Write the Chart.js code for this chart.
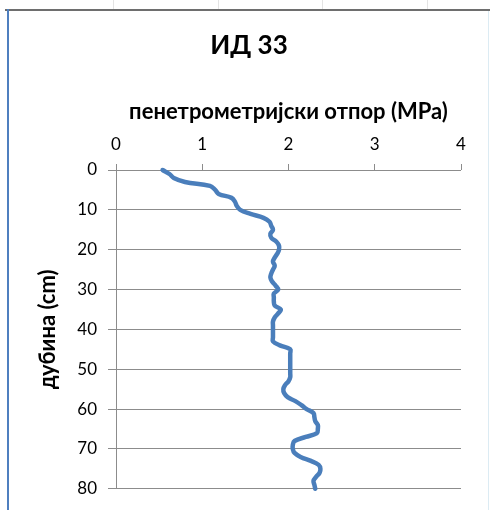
<!DOCTYPE html>
<html>
<head>
<meta charset="utf-8">
<script src="https://cdn.jsdelivr.net/npm/chart.js@4"></script>
<style>
  html, body { margin: 0; padding: 0; background: #ffffff; }
  #wrap { width: 490px; height: 510px; position: relative; }
</style>
</head>
<body>
<div id="wrap"><canvas id="c" width="490" height="510"></canvas></div>
<script>
// Penetrometer profile: depth (cm) and resistance (MPa)
const depthCm = [
  0, 1, 2, 3, 4, 5, 6, 7, 8, 9,
  10, 11, 12, 13, 14, 15, 16, 17, 18, 19,
  20, 21, 22, 23, 24, 25, 26, 27, 28, 29,
  30, 31, 32, 33, 34, 35, 36, 37, 38, 39,
  40, 41, 42, 43, 44, 45, 46, 47, 48, 49,
  50, 51, 52, 53, 54, 55, 56, 57, 58, 59,
  60, 61, 62, 63, 64, 65, 66, 67, 68, 69,
  70, 71, 72, 73, 74, 75, 76, 77, 78, 79,
  80
];
const resistanceMPa = [
  0.54, 0.62, 0.67, 0.80, 1.09, 1.15, 1.19, 1.34, 1.38, 1.40,
  1.44, 1.56, 1.71, 1.78, 1.80, 1.82, 1.79, 1.80, 1.86, 1.89,
  1.89, 1.87, 1.84, 1.82, 1.84, 1.82, 1.80, 1.79, 1.81, 1.85,
  1.88, 1.83, 1.83, 1.83, 1.84, 1.91, 1.88, 1.84, 1.82, 1.82,
  1.82, 1.82, 1.82, 1.82, 1.90, 2.02, 2.02, 2.02, 2.02, 2.02,
  2.02, 2.02, 2.02, 2.00, 1.96, 1.94, 1.95, 1.99, 2.08, 2.15,
  2.21, 2.29, 2.30, 2.31, 2.34, 2.34, 2.33, 2.20, 2.07, 2.05,
  2.05, 2.07, 2.14, 2.26, 2.35, 2.37, 2.36, 2.32, 2.29, 2.30,
  2.31
];
const resistanceTicks = [0, 1, 2, 3, 4];
const depthTicks = [0, 10, 20, 30, 40, 50, 60, 70, 80];

const chartTitle = 'ИД 33';
const xTitle = 'пенетрометријски отпор (MPa)';
const yTitle = 'дубина (cm)';

const FONT = 'Lato, Calibri, Carlito, sans-serif';
const GRID = '#8c8c8c';

const points = depthCm.map((d, i) => ({ x: resistanceMPa[i], y: d }));

// Frame of the chart object (dark top edge, blue left edge, pale right edge) and its title
const framePlugin = {
  id: 'frame',
  beforeDraw(chart) {
    const ctx = chart.ctx;
    ctx.save();
    ctx.fillStyle = '#ffffff';
    ctx.fillRect(0, 0, chart.width, chart.height);
    // faint sheet gridlines peeking above the frame
    ctx.strokeStyle = '#e4e4e4';
    ctx.lineWidth = 1;
    [113.5, 218.5, 322.5, 427.5].forEach(x => {
      ctx.beginPath(); ctx.moveTo(x, 0); ctx.lineTo(x, 9); ctx.stroke();
    });
    ctx.strokeStyle = '#dcebf3';
    ctx.beginPath(); ctx.moveTo(488.5, 10); ctx.lineTo(488.5, 510); ctx.stroke();
    ctx.strokeStyle = '#6e6e6e';
    ctx.lineWidth = 2;
    ctx.beginPath(); ctx.moveTo(5, 10); ctx.lineTo(490, 10); ctx.stroke();
    ctx.strokeStyle = '#4f7fbf';
    ctx.beginPath(); ctx.moveTo(8, 9); ctx.lineTo(8, 510); ctx.stroke();

    // chart title, centred on the framed object
    ctx.fillStyle = '#000000';
    ctx.font = 'bold 26px ' + FONT;
    ctx.textAlign = 'center';
    ctx.textBaseline = 'middle';
    ctx.fillText(chartTitle, 249, 46);
    ctx.restore();
  }
};

new Chart(document.getElementById('c'), {
  type: 'scatter',
  data: {
    datasets: [{
      data: points,
      showLine: true,
      borderColor: '#4a7ebb',
      backgroundColor: '#4a7ebb',
      borderWidth: 4.5,
      pointRadius: 0,
      pointHoverRadius: 0,
      tension: 0.4,
      borderCapStyle: 'round',
      borderJoinStyle: 'round',
      clip: false
    }]
  },
  options: {
    responsive: false,
    animation: false,
    events: [],
    layout: { padding: { left: 0, right: 29, top: 0, bottom: 18 } },
    plugins: {
      legend: { display: false },
      tooltip: { enabled: false },
      title: { display: false }
    },
    scales: {
      x: {
        type: 'linear',
        position: 'top',
        min: 0,
        max: 4,
        afterFit(scale) { scale.height = 170; },
        afterBuildTicks(scale) { scale.ticks = resistanceTicks.map(v => ({ value: v })); },
        ticks: {
          color: '#000000',
          font: { family: FONT, size: 17 },
          padding: 9,
          maxRotation: 0
        },
        grid: {
          drawOnChartArea: false,
          drawTicks: true,
          tickLength: 6,
          color: GRID
        },
        border: { display: false },
        title: {
          display: true,
          text: xTitle,
          color: '#000000',
          font: { family: FONT, size: 22, weight: 'bold', lineHeight: 1.2 },
          padding: { top: 99, bottom: 0 }
        }
      },
      y: {
        type: 'linear',
        position: 'left',
        reverse: true,
        min: 0,
        max: 80,
        afterFit(scale) { scale.width = 116; },
        afterBuildTicks(scale) { scale.ticks = depthTicks.map(v => ({ value: v })); },
        ticks: {
          color: '#000000',
          font: { family: FONT, size: 17 },
          padding: 11
        },
        grid: {
          drawOnChartArea: true,
          drawTicks: true,
          tickLength: 8,
          color: GRID
        },
        border: { display: true, color: GRID, width: 1 },
        title: {
          display: true,
          text: yTitle,
          color: '#000000',
          font: { family: FONT, size: 22, weight: 'bold', lineHeight: 1.2 },
          padding: { top: 35, bottom: 0 }
        }
      }
    }
  },
  plugins: [framePlugin]
});
</script>
</body>
</html>
